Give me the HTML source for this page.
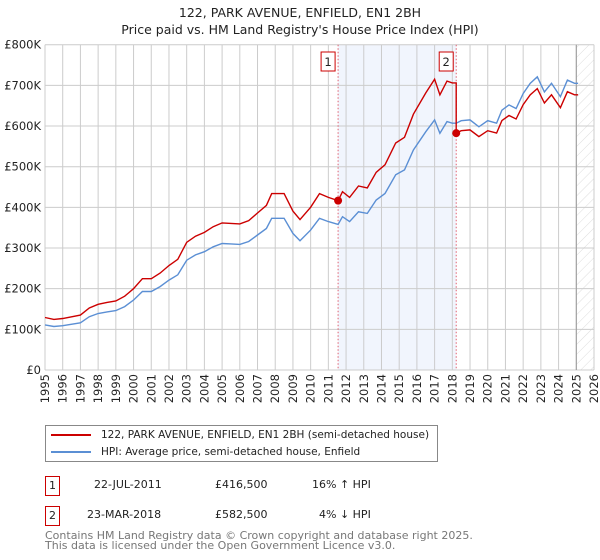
<!DOCTYPE html>
<html><head><meta charset="utf-8"><style>
body{margin:0;width:600px;height:560px;background:#fff;font-family:"DejaVu Sans","Liberation Sans",sans-serif;overflow:hidden}
svg{position:absolute;left:0;top:0}
</style></head><body>
<svg width="600" height="560" xmlns="http://www.w3.org/2000/svg" style="font-family:'DejaVu Sans',sans-serif">
<defs><pattern id="hatch" width="7" height="7" patternUnits="userSpaceOnUse" patternTransform="rotate(45)"><line x1="0" y1="0" x2="0" y2="7" stroke="#d4d4d4" stroke-width="0.8"/></pattern></defs>
<g id="g"></g>
</svg>
<script>
const yearTicks=[1995,1996,1997,1998,1999,2000,2001,2002,2003,2004,2005,2006,2007,2008,2009,2010,2011,2012,2013,2014,2015,2016,2017,2018,2019,2020,2021,2022,2023,2024,2025,2026];
const valueTicks=[0,100000,200000,300000,400000,500000,600000,700000,800000];
const valueLabels=["£0","£100K","£200K","£300K","£400K","£500K","£600K","£700K","£800K"];
const hpiYears=[1995,1995.5,1996,1997,1997.5,1998,1998.5,1999,1999.5,2000,2000.5,2001,2001.5,2002,2002.5,2003,2003.5,2004,2004.5,2005,2005.5,2006,2006.5,2007,2007.5,2007.8,2008.5,2009,2009.4,2010,2010.5,2011,2011.55,2011.8,2012.2,2012.7,2013.2,2013.7,2014.2,2014.8,2015.3,2015.8,2016.5,2017,2017.3,2017.7,2018,2018.22,2018.5,2019,2019.5,2020,2020.5,2020.8,2021.2,2021.6,2022,2022.4,2022.8,2023.2,2023.6,2024.1,2024.5,2024.9,2025.1];
const hpiValues=[111,107,109,116,131,139,143,146,156,172,193,193,205,221,234,270,283,291,303,311,310,309,316,332,348,373,373,336,318,344,373,365,358,377,365,389,385,418,434,480,492,541,586,615,582,611,607,607,613,615,598,613,607,639,652,643,680,705,721,684,705,672,713,705,705];
const saleYears=[2011.55,2018.22];
const salePrices=[416500,582500];
const saleRatios=[1.163,0.96];

const X0=45,X1=594,Y0=370,Y1=44.7;
const xs=y=>X0+(y-1995)/(2026-1995)*(X1-X0);
const ys=v=>Y0-v/800000*(Y0-Y1);
const g=document.getElementById('g');
const NS='http://www.w3.org/2000/svg';
function mk(t,a,txt){const e=document.createElementNS(NS,t);for(const k in a)e.setAttribute(k,a[k]);if(txt!==undefined)e.textContent=txt;g.appendChild(e);return e;}

let e;
e=mk('rect',{x:xs(saleYears[0]),y:Y1,width:xs(saleYears[1])-xs(saleYears[0]),height:Y0-Y1,fill:'#eef3fc',opacity:0.8});


e=mk('rect',{x:xs(2025),y:Y1,width:X1-xs(2025),height:Y0-Y1,fill:'url(#hatch)'});


yearTicks.forEach(t=>{
 e=mk('line',{x1:xs(t),x2:xs(t),y1:Y1,y2:Y0,stroke:'#ccc','stroke-width':1});
 
 
 const x=xs(t)+4,y=Y0+4;
 e=mk('text',{x:x,y:y,transform:`rotate(-90 ${x} ${y})`,'text-anchor':'end','font-size':11.5,fill:'#222'},t);
 
 
});
valueTicks.forEach((v,i)=>{
 e=mk('line',{x1:X0,x2:X1,y1:ys(v),y2:ys(v),stroke:'#ccc','stroke-width':1});
 
 
 e=mk('text',{x:X0-4,y:ys(v)+4,'text-anchor':'end','font-size':11.5,fill:'#222'},valueLabels[i]);
 
 
});
e=mk('line',{x1:xs(2025),x2:xs(2025),y1:Y1,y2:Y0,stroke:'#999','stroke-width':1});


saleYears.forEach((s,i)=>{
 e=mk('line',{x1:xs(s),x2:xs(s),y1:Y1,y2:Y0,stroke:'#e06070','stroke-width':1,'stroke-dasharray':'1.5,2'});
 
 
 e=mk('rect',{x:xs(s)-17,y:52,width:14,height:19,fill:'#fff',stroke:'#c00','stroke-width':1});
 
 
 e=mk('text',{x:xs(s)-10,y:66,'text-anchor':'middle','font-size':11.5,fill:'#222'},String(i+1));
 
 
});
let d=hpiYears.map((y,i)=>(i?'L':'M')+xs(y).toFixed(1)+','+ys(hpiValues[i]*1000).toFixed(1)).join('');
e=mk('path',{d:d,fill:'none',stroke:'#5b8fd4','stroke-width':1.4});


let pts=[];
hpiYears.forEach((y,i)=>{
 if(y<=saleYears[1]) pts.push([y,hpiValues[i]*1000*saleRatios[0]]);
 if(y>=saleYears[1]) pts.push([y,y===saleYears[1]?salePrices[1]:hpiValues[i]*1000*saleRatios[1]]);
});
d=pts.map((p,i)=>(i?'L':'M')+xs(p[0]).toFixed(1)+','+ys(p[1]).toFixed(1)).join('');
e=mk('path',{d:d,fill:'none',stroke:'#cc0000','stroke-width':1.4});


saleYears.forEach((s,i)=>{
 e=mk('circle',{cx:xs(s),cy:ys(salePrices[i]),r:4,fill:'#cc0000'});
 
 
});
</script>
<div style="position:absolute;left:0;width:600px;top:4px;text-align:center;font-size:12.5px;line-height:17px;color:#222">122, PARK AVENUE, ENFIELD, EN1 2BH<br>Price paid vs. HM Land Registry's House Price Index (HPI)</div>
<div style="position:absolute;left:45px;top:425px;width:391px;height:35px;border:1px solid #888;font-size:10.5px;color:#222">
 <div style="position:absolute;left:5px;top:3px;white-space:nowrap"><span style="display:inline-block;width:40px;height:2px;background:#cc0000;vertical-align:middle;margin-right:10px"></span>122, PARK AVENUE, ENFIELD, EN1 2BH (semi-detached house)</div>
 <div style="position:absolute;left:5px;top:20px;white-space:nowrap"><span style="display:inline-block;width:40px;height:2px;background:#5b8fd4;vertical-align:middle;margin-right:10px"></span>HPI: Average price, semi-detached house, Enfield</div>
</div>
<div style="position:absolute;left:45px;top:476px;font-size:11px;color:#222">
 <span style="position:absolute;left:0;top:0;width:13px;height:18px;border:1px solid #c00;text-align:center;line-height:18px">1</span>
 <span style="position:absolute;left:49px;top:2px;white-space:nowrap">22-JUL-2011</span>
 <span style="position:absolute;left:170px;top:2px;white-space:nowrap">£416,500</span>
 <span style="position:absolute;left:267px;top:2px;white-space:nowrap">16% ↑ HPI</span>
</div>
<div style="position:absolute;left:45px;top:506px;font-size:11px;color:#222">
 <span style="position:absolute;left:0;top:0;width:13px;height:18px;border:1px solid #c00;text-align:center;line-height:18px">2</span>
 <span style="position:absolute;left:42px;top:2px;white-space:nowrap">23-MAR-2018</span>
 <span style="position:absolute;left:170px;top:2px;white-space:nowrap">£582,500</span>
 <span style="position:absolute;left:274px;top:2px;white-space:nowrap">4% ↓ HPI</span>
</div>
<div style="position:absolute;left:45px;top:531px;font-size:11px;line-height:10px;color:#777;white-space:nowrap">Contains HM Land Registry data © Crown copyright and database right 2025.<br>This data is licensed under the Open Government Licence v3.0.</div>
</body></html>
